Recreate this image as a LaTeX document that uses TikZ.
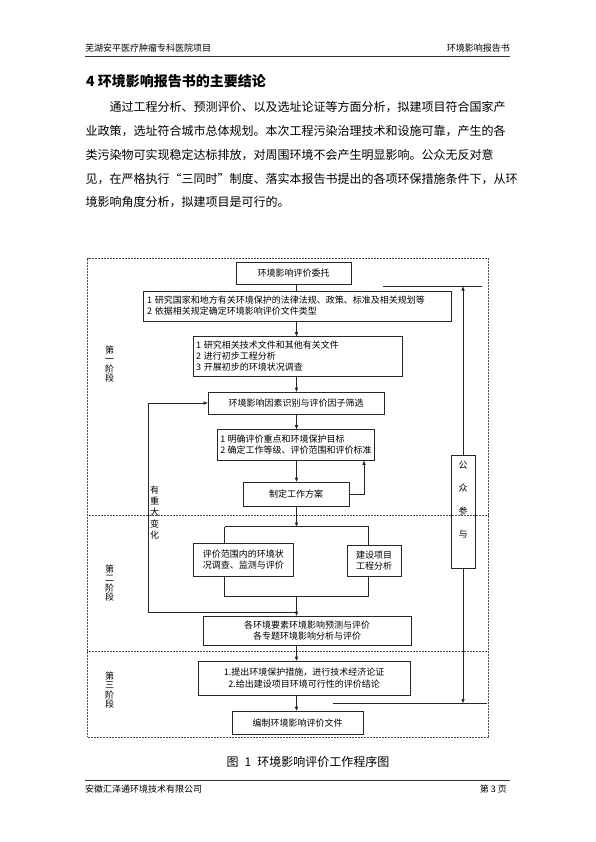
\documentclass[tikz,border=0pt]{standalone}
\usepackage{fontspec}
\setmainfont{Noto Sans CJK SC}
\usepackage{tikz}
\usetikzlibrary{arrows.meta}
\XeTeXlinebreaklocale "zh"
\XeTeXlinebreakskip=0pt plus 2pt minus 1pt

\begin{document}
\begin{tikzpicture}[x=1pt,y=1pt,yscale=-1,
  box/.style={draw=black!85,line width=0.6pt,inner sep=0pt,font=\fontsize{9}{11}\selectfont,align=center},
  flow/.style={draw=black!85,line width=0.6pt},
  arr/.style={flow,-{Triangle[length=4pt,width=3.2pt]}},
  stagetext/.style={inner sep=0pt,font=\fontsize{9}{9.5}\selectfont,align=center},
  frameline/.style={draw=black!70,line width=0.5pt,dash pattern=on 0.8pt off 0.7pt},
  bodyline/.style={anchor=west,inner sep=0pt,font=\fontsize{12}{14}\selectfont},
  headtext/.style={inner sep=0pt,font=\fontsize{9}{11}\selectfont}]

\useasboundingbox (0,0) rectangle (595,842);

\node [headtext,anchor=west] (hleft) at (85,48) {芜湖安平医疗肿瘤专科医院项目};
\node [headtext,anchor=east] (hright) at (510,48) {环境影响报告书};
\coordinate (hrl) at (85,56.5);
\coordinate (hrr) at (510,56.5);
\draw [line width=0.8pt,black!80] (hrl) -- (hrr);

\node [anchor=west,inner sep=0pt,font=\fontsize{14}{16}\selectfont\bfseries] (title) at (86,81) {4 环境影响报告书的主要结论};
\node [bodyline] (line1) at (85.5,107.5) {\hbox to 423pt{\hskip 24pt 通过工程分析、预测评价、以及选址论证等方面分析，拟建项目符合国家产}};
\node [bodyline] (line2) at (85.5,131.2) {\hbox to 423pt{业政策，选址符合城市总体规划。本次工程污染治理技术和设施可靠，产生的各}};
\node [bodyline] (line3) at (85.5,154.9) {\hbox to 423pt{类污染物可实现稳定达标排放，对周围环境不会产生明显影响。公众无反对意}};
\node [bodyline] (line4) at (85.5,178.6) {\hbox to 423pt{见，在严格执行“三同时”制度、落实本报告书提出的各项环保措施条件下，从环}};
\node [bodyline] (line5) at (85.5,202.3) {境影响角度分析，拟建项目是可行的。};

\node [frameline,inner sep=0pt,minimum width=400.5pt,minimum height=479pt] (frame) at (287.75,497.5) {};
\coordinate (sepa) at (0,515);
\coordinate (sepb) at (0,651);
\draw [frameline] (frame.west |- sepa) -- (frame.east |- sepa);
\draw [frameline] (frame.west |- sepb) -- (frame.east |- sepb);

\node [box,minimum width=115pt,minimum height=22pt] (entrust) at (293.5,273) {环境影响评价委托};
\node [box,minimum height=30pt,text width=300pt,inner xsep=4pt,align=left] (survey) at (297,306) {1 研究国家和地方有关环境保护的法律法规、政策、标准及相关规划等\\2 依据相关规定确定环境影响评价文件类型};
\node [box,minimum height=40pt,text width=203pt,inner xsep=3pt,align=left] (prep) at (297.5,356.5) {1 研究相关技术文件和其他有关文件\\2 进行初步工程分析\\3 开展初步的环境状况调查};
\node [box,minimum width=176pt,minimum height=22pt] (factor) at (296,403) {环境影响因素识别与评价因子筛选};
\node [box,minimum width=157pt,minimum height=31pt,align=left] (grade) at (296,445) {1 明确评价重点和环境保护目标\\2 确定工作等级、评价范围和评价标准};
\node [box,minimum width=106pt,minimum height=24pt] (plan) at (296,494) {制定工作方案};
\node [box,minimum width=100.5pt,minimum height=32.5pt] (status) at (243.25,559.75) {评价范围内的环境状\\况调查、监测与评价};
\node [box,minimum width=54pt,minimum height=31pt] (project) at (374,560.5) {建设项目\\工程分析};
\node [box,minimum width=208pt,minimum height=29pt] (predict) at (307,630.5) {各环境要素环境影响预测与评价\\各专题环境影响分析与评价};
\node [box,minimum width=212pt,minimum height=34pt,font=\fontsize{9}{12.5}\selectfont] (measure) at (304,678) {1.提出环境保护措施，进行技术经济论证\\2.给出建设项目环境可行性的评价结论};
\node [box,minimum width=131pt,minimum height=23.5pt] (report) at (297.5,722.75) {编制环境影响评价文件};
\node [box,minimum width=24pt,minimum height=113pt] (public) at (463,511.5) {};
\node [stagetext,font=\fontsize{9}{23}\selectfont] (publbl) at (463,500) {公\\众\\参\\与};

\node [stagetext] (stage1) at (109.5,364) {第\\一\\阶\\段};
\node [stagetext] (stage2) at (109.5,583) {第\\二\\阶\\段};
\node [stagetext] (stage3) at (109.5,690) {第\\三\\阶\\段};
\node [stagetext,font=\fontsize{9}{11.2}\selectfont] (change) at (154.5,512.5) {有\\重\\大\\变\\化};

\coordinate (spine) at (296.5,0);
\coordinate (brl) at (224.5,526.5);
\coordinate (brr) at (368.5,526.5);
\coordinate (bkl) at (224.5,596);
\coordinate (bkr) at (368.5,596);
\coordinate (loopx) at (148.5,612.5);
\coordinate (fbx) at (364,0);
\coordinate (ptop) at (463,286.5);
\coordinate (ptl) at (383,286.5);
\coordinate (ptr) at (482,286.5);
\coordinate (pbot) at (463,703);
\coordinate (pbl) at (333,703);
\coordinate (pbr) at (487,703);

\draw [flow] (entrust.south -| spine) -- (survey.north -| spine);
\draw [arr] (survey.south -| spine) -- (prep.north -| spine);
\draw [arr] (prep.south -| spine) -- (factor.north -| spine);
\draw [arr] (factor.south -| spine) -- (grade.north -| spine);
\draw [arr] (grade.south -| spine) -- (plan.north -| spine);
\draw [arr] (plan.east) -| (fbx |- grade.south);
\draw [arr] (plan.south -| spine) -- (spine |- brl);
\draw [flow] (brl) -- (brr);
\draw [flow] (brl) -- (brl |- status.north);
\draw [flow] (brr) -- (brr |- project.north);
\draw [flow] (bkl |- status.south) -- (bkl) -- (bkr) -- (bkr |- project.south);
\draw [arr] (spine |- bkl) -- (predict.north -| spine);
\draw [arr] (spine |- loopx) -- (loopx) |- (factor.west);
\draw [arr] (predict.south -| spine) -- (measure.north -| spine);
\draw [arr] (measure.south -| spine) -- (report.north -| spine);
\draw [arr] (public.north) -- (ptop);
\draw [flow] (ptl) -- (ptr);
\draw [arr] (public.south) -- (pbot);
\draw [flow] (pbl) -- (pbr);

\node [font=\fontsize{12}{14}\selectfont,inner sep=0pt] (caption) at (308,762) {图\enspace 1\enspace 环境影响评价工作程序图};

\coordinate (frl) at (85,780);
\coordinate (frr) at (510,780);
\draw [line width=0.8pt,black!80] (frl) -- (frr);
\node [headtext,anchor=west] (fleft) at (85,789) {安徽汇泽通环境技术有限公司};
\node [headtext,anchor=east] (fright) at (507,789) {第 3 页};

\end{tikzpicture}
\end{document}
